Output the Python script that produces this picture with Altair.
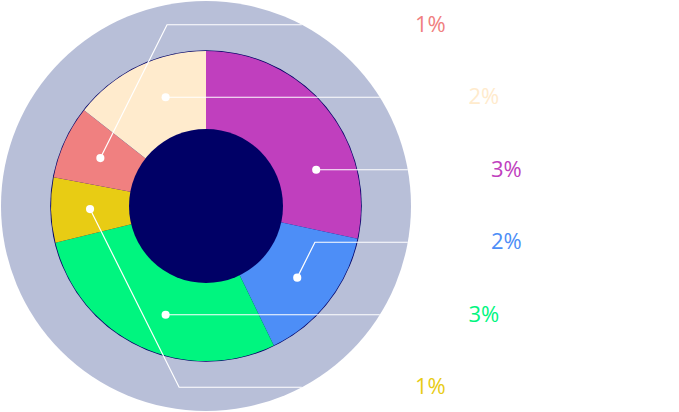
import math
import altair as alt
import pandas as pd

# ---- data ----
slices = ["S1", "S2", "S3", "S4", "S5", "S6"]
values = [3.35, 1.7, 3.35, 0.8, 0.9, 1.7]
colors = ["#c03fbe", "#4d8ef7", "#00f57f", "#e8cc14", "#f08080", "#ffebcd"]
label_order = ["S5", "S6", "S1", "S2", "S3", "S4"]  # top to bottom

# ---- layout ----
W, H = 679, 412
CX, CY = 206, 206
R_BG, R_OUT, R_IN, R_DOT = 205, 155, 77, 116
SLOT = 72.5
LBL_CX, LBL_R = 55, 248

total = sum(values)
rows, line_rows, dot_rows, lbl_rows = [], [], [], []
a = 0.0
for i, (s, v) in enumerate(zip(slices, values)):
    span = v / total * 360.0
    a0, a1 = a, a + span
    a = a1
    mid = (a0 + a1) / 2
    rows.append({"slice": s, "t0": a0, "t1": a1, "idx": i})

    slot = label_order.index(s)
    ly = (slot - 2.5) * SLOT
    # choose dot point
    dot = None
    if abs(ly) < R_DOT:
        th1 = math.degrees(math.acos(-ly / R_DOT))
        cands = [th1, 360 - th1]
        best = min(cands, key=lambda t: abs(t - mid))
        if abs(best - mid) < 0.3 * span:
            dot = (R_DOT * math.sin(math.radians(best)), ly)
    pts = []
    if dot is None:
        dx = R_DOT * math.sin(math.radians(mid))
        dy = -R_DOT * math.cos(math.radians(mid))
        dot = (dx, dy)
        pts.append(dot)
        pts.append((dx + 0.5 * abs(ly - dy), ly))
    else:
        pts.append(dot)
    end_x = math.sqrt(R_BG ** 2 - ly ** 2)
    pts.append((end_x, ly))
    for k, (px, py) in enumerate(pts):
        line_rows.append({"slice": s, "seq": k, "x": px, "y": py})
    dot_rows.append({"slice": s, "x": dot[0], "y": dot[1]})
    lbl_rows.append({"slice": s, "x": LBL_CX + math.sqrt(LBL_R ** 2 - ly ** 2),
                     "y": ly, "label": f"{round(v)}%"})

df = pd.DataFrame(rows)
df_lines = pd.DataFrame(line_rows)
df_dots = pd.DataFrame(dot_rows)
df_lbl = pd.DataFrame(lbl_rows)
one = pd.DataFrame({"a": [0]})

color_scale = alt.Scale(domain=slices, range=colors)
xs = alt.X("x:Q", scale=alt.Scale(domain=[-CX, W - CX], nice=False, zero=False), axis=None)
ys = alt.Y("y:Q", scale=alt.Scale(domain=[-CY, H - CY], nice=False, zero=False, reverse=True), axis=None)

bg = alt.Chart(one).mark_arc(radius=R_BG, theta=0, theta2=2 * math.pi, color="#b8bfd8").encode(
    x=alt.value(CX), y=alt.value(CY))
rim = alt.Chart(one).mark_arc(radius=R_OUT + 0.8, theta=0, theta2=2 * math.pi, color="#000066").encode(
    x=alt.value(CX), y=alt.value(CY))
pie = alt.Chart(df).mark_arc(radius=R_OUT).encode(
    theta=alt.Theta("t0:Q", scale=alt.Scale(domain=[0, 360], range=[0, 2 * math.pi])),
    theta2="t1:Q",
    color=alt.Color("slice:N", scale=color_scale, legend=None),
    x=alt.value(CX), y=alt.value(CY))
hole = alt.Chart(one).mark_arc(radius=R_IN, theta=0, theta2=2 * math.pi, color="#000066").encode(
    x=alt.value(CX), y=alt.value(CY))
lines = alt.Chart(df_lines).mark_line(color="white", strokeWidth=1.2).encode(
    x=xs, y=ys, detail="slice:N", order="seq:Q")
dots = alt.Chart(df_dots).mark_circle(color="white", size=66, opacity=1).encode(x=xs, y=ys)
labels = alt.Chart(df_lbl).mark_text(font="Open Sans", fontSize=22, align="center",
                                     baseline="middle").encode(
    x=xs, y=ys, text="label:N",
    color=alt.Color("slice:N", scale=color_scale, legend=None))

chart = alt.layer(bg, rim, pie, hole, lines, dots, labels).properties(
    width=W, height=H, autosize="none", padding=0, background="white"
).configure_view(stroke=None).resolve_scale(color="shared")

chart.save("out.html", embed_options={"renderer": "svg", "actions": False})
